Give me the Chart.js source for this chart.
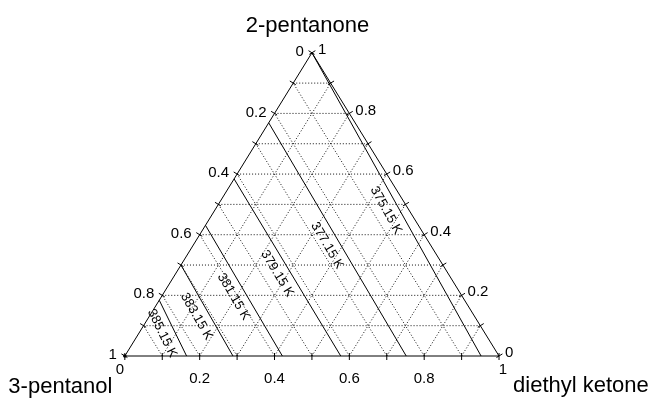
<!DOCTYPE html>
<html>
<head>
<meta charset="utf-8">
<script src="https://cdn.jsdelivr.net/npm/chart.js@4/dist/chart.umd.min.js"></script>
<style>
  html, body { margin: 0; padding: 0; background: #fff; }
  canvas { display: block; }
</style>
</head>
<body>
<canvas id="main-chart" width="654" height="400"></canvas>
<script>
// components: left vertex, top vertex, right vertex
const COMPONENTS = ['3-pentanol', '2-pentanone', 'diethyl ketone']
const GRID_STEPS = [0.1, 0.2, 0.3, 0.4, 0.5, 0.6, 0.7, 0.8, 0.9]
const TICK_STEPS = [0, 0.1, 0.2, 0.3, 0.4, 0.5, 0.6, 0.7, 0.8, 0.9, 1]
const LABEL_VALUES = [0, 0.2, 0.4, 0.6, 0.8, 1]
const LABEL_TEXTS = ['0', '0.2', '0.4', '0.6', '0.8', '1']

// isotherms: 2-pentanone fraction where the line meets the 3-pentanol/2-pentanone side,
// diethyl ketone fraction where it meets the base
const ISOTHERM_NAMES = ['375.15 K', '377.15 K', '379.15 K', '381.15 K', '383.15 K', '385.15 K']
const ISOTHERM_TOP = [1.0, 0.769, 0.584, 0.431, 0.30, 0.184]
const ISOTHERM_BASE = [0.952, 0.752, 0.577, 0.421, 0.289, 0.165]

const FONT = "'Liberation Sans', Arial, sans-serif"

// ternary (diethyl ketone, 2-pentanone) -> plane
const toXY = (d, p) => ({ x: d + p / 2, y: p })

const lineSet = (points, extra) => Object.assign({
  data: points,
  showLine: true,
  borderColor: '#000',
  borderWidth: 1,
  pointRadius: 0,
  fill: false,
  clip: false
}, extra || {})

const buildDatasets = () => {
  const sets = []
  const dotted = { borderColor: '#111', borderDash: [1, 2] }
  GRID_STEPS.forEach(v => {
    sets.push(lineSet([toXY(0, v), toXY(1 - v, v)], dotted))
    sets.push(lineSet([toXY(v, 0), toXY(v, 1 - v)], dotted))
    sets.push(lineSet([toXY(1 - v, 0), toXY(0, 1 - v)], dotted))
  })
  sets.push(lineSet([toXY(0, 0), toXY(1, 0), toXY(0, 1), toXY(0, 0)]))
  ISOTHERM_NAMES.forEach((name, i) => {
    sets.push(lineSet([toXY(0, ISOTHERM_TOP[i]), toXY(ISOTHERM_BASE[i], 0)], { label: name }))
  })
  sets.push({
    data: [toXY(0, 0)],
    pointRadius: 1.5,
    pointStyle: 'rect',
    pointBackgroundColor: '#000',
    pointBorderColor: '#000',
    showLine: false,
    clip: false
  })
  return sets
}

const ternaryDecor = {
  id: 'ternaryDecor',
  afterDatasetsDraw(chart) {
    const ctx = chart.ctx
    const xs = chart.scales.x
    const ys = chart.scales.y
    const px = (d, p) => {
      const pt = toXY(d, p)
      return { x: xs.getPixelForValue(pt.x), y: ys.getPixelForValue(pt.y) }
    }
    const A = px(0, 0)
    const B = px(0, 1)
    const C = px(1, 0)
    const unit = (vx, vy) => {
      const l = Math.hypot(vx, vy)
      return { x: vx / l, y: vy / l }
    }
    const leftOut = unit(B.y - A.y, -(B.x - A.x))
    const rightOut = unit(-(B.y - C.y), B.x - C.x)

    ctx.save()
    ctx.strokeStyle = '#000'
    ctx.lineWidth = 1
    const tick = (pt, n) => {
      ctx.beginPath()
      ctx.moveTo(pt.x - n.x * 3, pt.y - n.y * 3)
      ctx.lineTo(pt.x + n.x * 4, pt.y + n.y * 4)
      ctx.stroke()
    }
    TICK_STEPS.forEach(v => {
      tick(px(v, 0), { x: 0, y: 1 })
      tick(px(0, v), leftOut)
      tick(px(1 - v, v), rightOut)
    })

    ctx.fillStyle = '#000'
    ctx.font = `15px ${FONT}`
    LABEL_VALUES.forEach((v, i) => {
      const txt = LABEL_TEXTS[i]
      // base: diethyl ketone
      const b = px(v, 0)
      ctx.textAlign = 'center'
      ctx.textBaseline = 'middle'
      if (v === 0) ctx.fillText(txt, b.x - 5, b.y + 14)
      else if (v === 1) ctx.fillText(txt, b.x + 4, b.y + 14)
      else ctx.fillText(txt, b.x, b.y + 23)
      // left side: 3-pentanol
      const l = px(0, 1 - v)
      ctx.textAlign = 'right'
      ctx.fillText(txt, l.x - 8, l.y - 1)
      // right side: 2-pentanone
      const r = px(1 - v, v)
      ctx.textAlign = 'left'
      ctx.fillText(txt, r.x + 6, r.y - 3)
    })

    ctx.font = `13px ${FONT}`
    ctx.textAlign = 'center'
    ctx.textBaseline = 'middle'
    ISOTHERM_NAMES.forEach((name, i) => {
      const p1 = px(0, ISOTHERM_TOP[i])
      const p2 = px(ISOTHERM_BASE[i], 0)
      const ang = Math.atan2(p2.y - p1.y, p2.x - p1.x)
      ctx.save()
      ctx.translate((p1.x + p2.x) / 2, (p1.y + p2.y) / 2)
      ctx.rotate(ang)
      ctx.fillText(name, 0, 12)
      ctx.restore()
    })

    ctx.font = `22px ${FONT}`
    ctx.textBaseline = 'alphabetic'
    ctx.textAlign = 'center'
    ctx.fillText(COMPONENTS[1], B.x - 4.5, B.y - 21)
    ctx.textAlign = 'right'
    ctx.fillText(COMPONENTS[0], A.x - 12.5, A.y + 37)
    ctx.textAlign = 'left'
    ctx.fillText(COMPONENTS[2], C.x + 14, C.y + 36)
    ctx.restore()
  }
}

const runChart = () => {
  const chartCanvas = document.getElementById('main-chart')
  const chartContext = chartCanvas.getContext('2d')

  new Chart(chartContext, {
    type: 'scatter',
    data: { datasets: buildDatasets() },
    options: {
      responsive: false,
      animation: false,
      layout: { padding: 0 },
      plugins: {
        legend: { display: false },
        tooltip: { enabled: false }
      },
      scales: {
        // 380 px per unit across, 311 px per unit up; left vertex at (121.7, 360)
        x: { type: 'linear', display: false, min: -121.7 / 380, max: (654 - 121.7) / 380 },
        y: { type: 'linear', display: false, min: -(400 - 360) / 311, max: 360 / 311 }
      }
    },
    plugins: [ternaryDecor]
  })
}

runChart()
</script>
</body>
</html>
